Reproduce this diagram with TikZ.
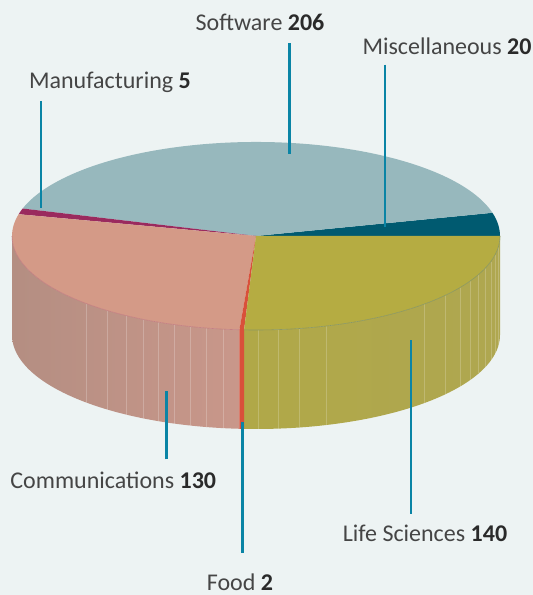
\documentclass[tikz,border=0pt]{standalone}
\usepackage{fontspec}
\setmainfont{Carlito}
\begin{document}
\begin{tikzpicture}[x=1pt,y=1pt]
\definecolor{bg}{HTML}{EDF3F3}
\definecolor{csw}{HTML}{97B8BD}
\definecolor{cmisc}{HTML}{005A70}
\definecolor{clife}{HTML}{B5AC42}
\definecolor{cfood}{HTML}{D9503A}
\definecolor{ccomm}{HTML}{D49A87}
\definecolor{cmanuf}{HTML}{9A2A5E}
\definecolor{clead}{HTML}{0A84A5}
\definecolor{ctxt}{HTML}{454545}
\definecolor{cnum}{HTML}{2A2A2A}
\definecolor{commL}{RGB}{180,142,130}
\definecolor{commR}{RGB}{201,151,138}
\definecolor{lifeL}{RGB}{176,168,72}
\definecolor{lifeM}{RGB}{182,174,66}
\definecolor{lifeR}{RGB}{175,167,80}
\definecolor{commRim}{RGB}{196,128,130}
\definecolor{lifeRim}{RGB}{140,152,96}
\tikzset{
  leader/.style={draw=clead,line width=2.6pt},
  lbl/.style={anchor=base,inner sep=0pt,text=ctxt,font=\fontsize{24}{28}\selectfont},
  sideline/.style={line width=0.6pt},
}
\newcommand\topslice[3]{\fill[#3] (256,359) -- ({256+244*cos(#1)},{359+94*sin(#1)}) arc[start angle=#1,end angle=#2,x radius=244,y radius=94] -- cycle;}
\newcommand\sideslice[3]{\path[#3] ({256+244*cos(#1)},{359+94*sin(#1)}) arc[start angle=#1,end angle=#2,x radius=244,y radius=94] -- ++(0,-99) arc[start angle=#2,end angle=#1,x radius=244,y radius=94] -- cycle;}
% background
\fill[bg] (0,0) rectangle (533,595);
\useasboundingbox (0,0) rectangle (533,595);
% side walls
\sideslice{180}{266.1}{left color=commL,right color=commR}
\sideslice{267.2}{360}{left color=lifeL,middle color=lifeM,right color=lifeR}
\sideslice{266.1}{267.2}{fill=cfood}
% banding lines on the wall
\foreach \xx in {86.7,107.5,126,142.8,158.5,174.5,190.5,206.7,223.4}{
  \pgfmathsetmacro\hh{94*sqrt(1-((\xx-256)/244)^2)}
  \draw[sideline,draw=white,opacity=0.22] (\xx,359-\hh) -- (\xx,359-\hh-99);
}
\foreach \xx in {258.4,277.8,299.5,326.6,424.4,445.6,459.8,469.8,478.6,485.2,490.8,495.2,498.3}{
  \pgfmathsetmacro\hh{94*sqrt(1-((\xx-256)/244)^2)}
  \draw[sideline,draw=white,opacity=0.2] (\xx,359-\hh) -- (\xx,359-\hh-99);
}
% top faces
\topslice{0}{14.3}{cmisc}
\topslice{14.3}{163}{csw}
\topslice{163}{166.6}{cmanuf}
\topslice{166.6}{266.1}{ccomm}
\topslice{266.1}{267.2}{cfood}
\topslice{267.2}{360}{clife}
% front rim
\draw[line width=0.6pt,draw=commRim] (12,359) arc[start angle=180,end angle=266.1,x radius=244,y radius=94];
\draw[line width=0.6pt,draw=lifeRim] ({256+244*cos(267.2)},{359+94*sin(267.2)}) arc[start angle=267.2,end angle=360,x radius=244,y radius=94];
% labels
\node[lbl] (lsw) at (260,564) {Software {\bfseries\color{cnum}206}};
\node[lbl] (lmisc) at (447,540.6) {Miscellaneous {\bfseries\color{cnum}20}};
\node[lbl] (lmanuf) at (110,506) {Manufacturing {\bfseries\color{cnum}5}};
\node[lbl] (lcomm) at (113.3,106) {Communications {\bfseries\color{cnum}130}};
\node[lbl] (lfood) at (240,5) {Food {\bfseries\color{cnum}2}};
\node[lbl] (llife) at (425,53.3) {Life Sciences {\bfseries\color{cnum}140}};
% leader ends
\coordinate (swA) at (289.5,551.5); \coordinate (swB) at (289.5,441.3);
\coordinate (miA) at (385,530.4);   \coordinate (miB) at (385,368);
\coordinate (maA) at (40.8,494);    \coordinate (maB) at (40.8,387);
\coordinate (coA) at (166.3,135.7); \coordinate (coB) at (166.3,204.3);
\coordinate (foA) at (242.5,42.3);  \coordinate (foB) at (242.5,173.3);
\coordinate (liA) at (410.9,81);    \coordinate (liB) at (410.9,255);
\draw[leader] (swA) -- (swB);
\draw[leader] (miA) -- (miB);
\draw[leader] (maA) -- (maB);
\draw[leader] (coA) -- (coB);
\draw[leader] (foA) -- (foB);
\draw[leader] (liA) -- (liB);
\end{tikzpicture}
\end{document}
